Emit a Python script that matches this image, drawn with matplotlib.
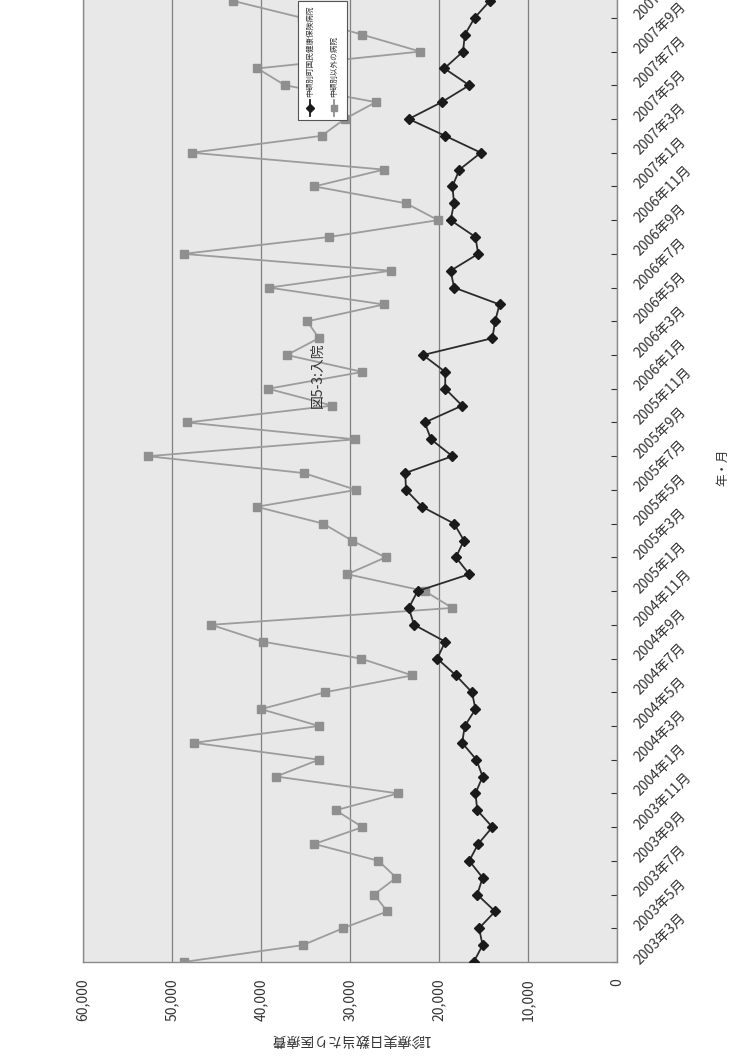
import matplotlib
matplotlib.use("Agg")
import matplotlib.pyplot as plt
from matplotlib.lines import Line2D
from matplotlib.ticker import FuncFormatter

plt.rcParams["font.family"] = ["Noto Sans CJK JP", "DejaVu Sans"]

# ── Data (monthly, 2003年3月 – 2007年12月) ──────────────────────────────────────
START_YEAR, START_MONTH = 2003, 3

# 中頓別町国民健康保険病院
town_hospital = [
    16100, 15100, 15500, 13700, 15700, 15100, 16600, 15600, 14000, 15700,
    15900, 15100, 15800, 17400, 17100, 15900, 16300, 18100, 20200, 19300,
    22800, 23400, 22400, 16600, 18100, 17200, 18300, 21900, 23700, 23800,
    18500, 20900, 21600, 17400, 19300, 19300, 21800, 14000, 13700, 13200,
    18300, 18700, 15600, 15900, 18700, 18300, 18500, 17700, 15300, 19300,
    23400, 19700, 16600, 19400, 17300, 17100, 16000, 14300,
]

# 中頓別以外の病院
other_hospitals = [
    48700, 35300, 30800, 25800, 27300, 24800, 26800, 34000, 28600, 31600,
    24600, 38300, 33500, 47500, 33500, 40000, 32800, 23000, 28800, 39800,
    45600, 18500, 21600, 30300, 26000, 29800, 33000, 40500, 29300, 35200,
    52700, 29400, 48300, 32000, 39200, 28600, 37100, 33500, 34800, 26200,
    39100, 25400, 48700, 32400, 20100, 23700, 34000, 26200, 47800, 33200,
    30600, 27100, 37300, 40400, 22100, 28600, 35400, 43100,
]

SERIES_NAMES = ["中頓別町国民健康保険病院", "中頓別以外の病院"]
TITLE = "図5-3:入院"
VALUE_LABEL = "1診療実日数当たり医療費"
DATE_LABEL = "年・月"

n = len(town_hospital)
month_labels = []
for i in range(n):
    y, m = divmod(START_MONTH - 1 + i, 12)
    month_labels.append(f"{START_YEAR + y}年{m + 1}月")

# ── Figure (chart is drawn turned a quarter turn) ──────────────────────────────
W, H = 733, 1060
fig = plt.figure(figsize=(W / 100, H / 100), dpi=100)
fig.patch.set_facecolor("white")

step = 16.86          # px per month
n_show = 60
left, right, bottom = 83, 617, 962
ax = fig.add_axes([left / W, (H - bottom) / H,
                   (right - left) / W, n_show * step / H])
ax.set_facecolor("#e8e8e8")

pos = list(range(n))
ax.plot(other_hospitals, pos, color="#9c9c9c", lw=1.3, marker="s",
        ms=6, mfc="#8f8f8f", mec="#8f8f8f", zorder=3)
ax.plot(town_hospital, pos, color="#2a2a2a", lw=1.3, marker="D",
        ms=5, mfc="#1a1a1a", mec="#1a1a1a", zorder=4)

# value axis (horizontal, reversed)
ax.set_xlim(60000, 0)
ax.set_xticks(range(0, 60001, 10000))
ax.xaxis.set_major_formatter(FuncFormatter(lambda v, _: f"{int(v):,}"))
ax.tick_params(axis="x", length=0, pad=12, labelsize=10, labelrotation=90,
               colors="#333333")
ax.grid(axis="x", color="#808080", lw=0.9)
ax.set_axisbelow(True)
ax.set_xlabel(VALUE_LABEL, rotation=180, fontsize=10, color="#333333",
              labelpad=8)

# date axis (vertical, on the right)
ax.set_ylim(0, n_show)
ax.yaxis.tick_right()
ax.set_yticks(pos[::2])
ax.set_yticklabels(month_labels[::2], rotation=45, ha="left", va="center",
                   rotation_mode="anchor")
ax.tick_params(axis="y", direction="in", length=4, pad=14, labelsize=10,
               colors="#333333")
for s in ax.spines.values():
    s.set_color("#8a8a8a")
    s.set_linewidth(1.0)

fig.text(723 / W, 1 - 467 / H, DATE_LABEL, rotation=90, fontsize=9,
         ha="center", va="center", color="#333333")

# title
fig.text(318 / W, 1 - 375 / H, TITLE, rotation=90, fontsize=10,
         ha="center", va="center", color="#333333")

# legend box
lx0, lx1, ly0, ly1 = 298, 347, 1, 120
fig.patches.append(plt.Rectangle((lx0 / W, 1 - ly1 / H),
                                 (lx1 - lx0) / W, (ly1 - ly0) / H,
                                 transform=fig.transFigure, facecolor="white",
                                 edgecolor="#555555", lw=0.8, zorder=5))
styles = [("#1a1a1a", "D", 4), ("#8f8f8f", "s", 5)]
for i, (name, (col, mk, ms)) in enumerate(zip(SERIES_NAMES, styles)):
    xx = (310 + i * 24) / W
    fig.lines.append(Line2D([xx, xx], [1 - 116 / H, 1 - 100 / H],
                            transform=fig.transFigure, color=col, lw=1.3,
                            zorder=6))
    fig.lines.append(Line2D([xx], [1 - 108 / H], transform=fig.transFigure,
                            color=col, marker=mk, ms=ms, zorder=6))
    fig.text(xx, 1 - 97 / H, name, rotation=90, fontsize=5.5,
             ha="center", va="bottom", color="#333333", zorder=7)

fig.savefig("out.png", dpi=100)
